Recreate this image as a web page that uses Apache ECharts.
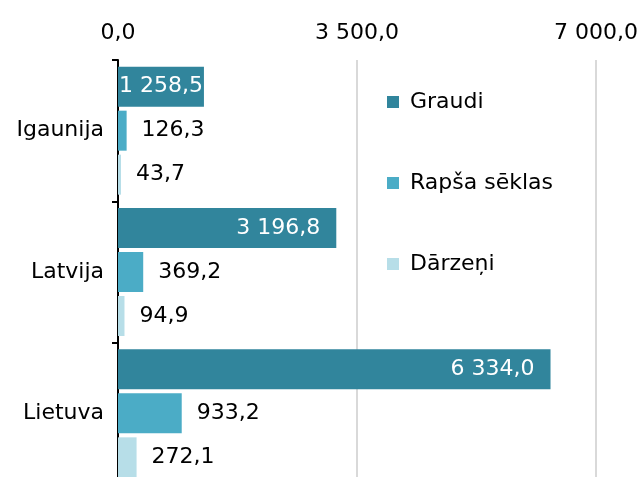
<!DOCTYPE html>
<html>
<head>
<meta charset="utf-8">
<script src="https://cdn.jsdelivr.net/npm/echarts@6/dist/echarts.min.js"></script>
<style>
  html, body { margin: 0; padding: 0; background: #fff; }
  #chart { width: 638px; height: 477px; }
</style>
</head>
<body>
<div id="chart"></div>
<script>
// Countries (top to bottom) and the three crop groups
const countries = ['Igaunija', 'Latvija', 'Lietuva'];
const seriesNames = ['Graudi', 'Rapša sēklas', 'Dārzeņi'];
const graudi = [1258.5, 3196.8, 6334.0];
const rapsaSeklas = [126.3, 369.2, 933.2];
const darzeni = [43.7, 94.9, 272.1];
const axisMin = 0, axisMax = 7000, axisStep = 3500;

const colors = ['#31859C', '#4BACC6', '#B7DEE8'];
const FONT = 'DejaVu Sans, Verdana, sans-serif';
const FS = 22;

// Latvian number style: space for thousands, comma for decimals, one decimal place
function fmt(v) {
  const parts = Number(v).toFixed(1).split('.');
  const intPart = parts[0].replace(/\B(?=(\d{3})+(?!\d))/g, ' ');
  return intPart + ',' + parts[1];
}

const chart = echarts.init(document.getElementById('chart'), null, { renderer: 'canvas' });

const valueLists = [graudi, rapsaSeklas, darzeni];
const series = valueLists.map((vals, i) => ({
  name: seriesNames[i],
  type: 'bar',
  // short bars pull their inside label tight to the bar end so it fits
  data: i === 0
    ? vals.map(v => (v < 2000 ? { value: v, label: { distance: 1 } } : v))
    : vals,
  barWidth: 40,
  barGap: '10%',
  barCategoryGap: '10%',
  itemStyle: { color: colors[i] },
  label: i === 0 ? {
    show: true,
    position: 'insideRight',
    distance: 16,
    color: '#fff',
    fontFamily: FONT,
    fontSize: FS,
    padding: [3, 0, 0, 0],
    formatter: p => fmt(p.value)
  } : {
    show: true,
    position: 'right',
    distance: 15,
    color: '#000',
    fontFamily: FONT,
    fontSize: FS,
    padding: [3, 0, 0, 0],
    formatter: p => fmt(p.value)
  },
  emphasis: { disabled: true },
  animation: false
}));

chart.setOption({
  animation: false,
  grid: { left: 118, right: 42, top: 60, height: 424, containLabel: false, outerBoundsMode: 'none' },
  legend: {
    orient: 'vertical',
    left: 382,
    top: 85,
    itemWidth: 12,
    itemHeight: 12,
    itemGap: 57,
    icon: 'rect',
    data: seriesNames,
    textStyle: { fontFamily: FONT, fontSize: FS, color: '#000', lineHeight: 24, padding: [0, 0, 0, 6] }
  },
  xAxis: {
    type: 'value',
    position: 'top',
    min: axisMin,
    max: axisMax,
    interval: axisStep,
    axisLine: { show: false },
    axisTick: { show: false },
    splitLine: { show: true, lineStyle: { color: '#d9d9d9', width: 2 } },
    axisLabel: {
      fontFamily: FONT, fontSize: FS, color: '#000', margin: 16,
      formatter: v => fmt(v)
    }
  },
  yAxis: {
    type: 'category',
    data: countries,
    inverse: true,
    axisLine: { show: true, lineStyle: { color: '#000', width: 2 } },
    axisTick: { show: true, length: 6, lineStyle: { color: '#000', width: 2 } },
    axisLabel: { fontFamily: FONT, fontSize: FS, color: '#000', margin: 14, padding: [3, 0, 0, 0] }
  },
  series: series
});
</script>
</body>
</html>
